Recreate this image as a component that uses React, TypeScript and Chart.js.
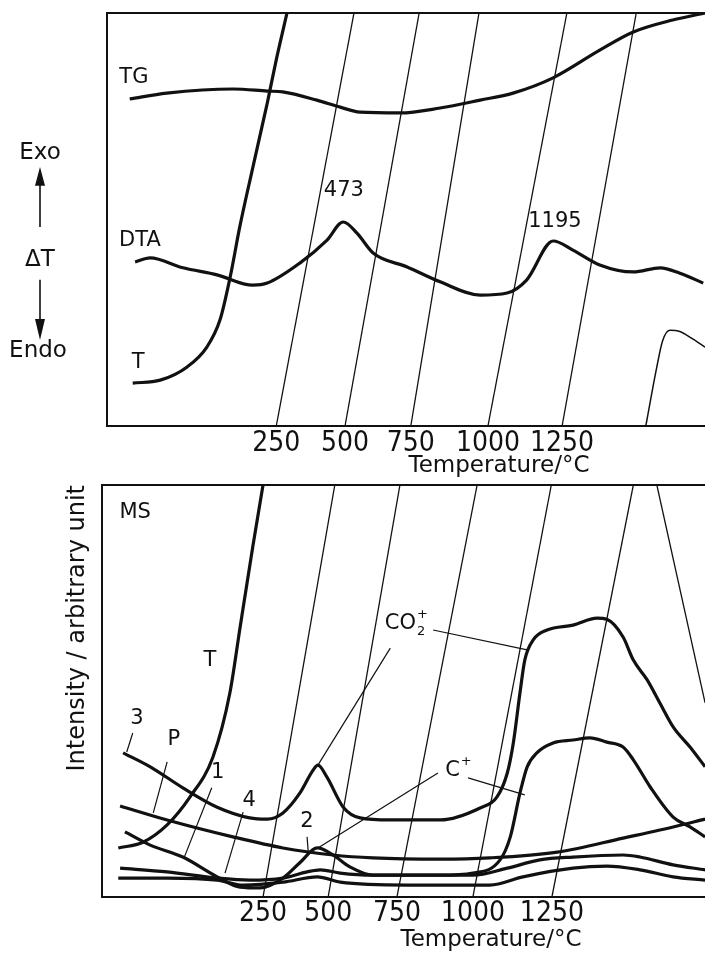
import React, { useEffect, useRef } from "react";
import { Chart, registerables } from "chart.js";

Chart.register(...registerables);

type P = [number, number];

// ---------------- Upper panel: TG / DTA / T ----------------
const upperTempLabels = ["250", "500", "750", "1000", "1250"];
const upperIsoBottom = [28.3, 39.8, 50.8, 63.7, 76.1];
const upperIsoTop = [41.3, 52.2, 62.2, 76.9, 88.5];

const tgCurve: P[] = [
  [3.8, 79.2], [10.0, 80.6], [21.1, 81.6], [26.8, 81.1], [29.4, 80.9], [35.1, 78.9],
  [39.0, 77.2], [42.3, 76.0], [49.0, 75.8], [55.7, 77.0], [62.4, 78.9], [67.9, 80.6],
  [74.6, 84.3], [82.4, 91.0], [88.0, 95.4], [94.6, 98.3], [100, 100],
];
const dtaCurve: P[] = [
  [4.7, 39.7], [7.2, 40.7], [12.7, 38.3], [18.4, 36.6], [24.4, 34.1], [26.8, 34.6],
  [32.3, 39.5], [36.8, 45.0], [39.5, 49.4], [41.8, 46.7], [44.5, 41.9], [50.2, 38.5],
  [55.7, 34.9], [62.4, 31.7], [66.9, 32.2], [70.2, 35.4], [74.6, 44.8], [77.9, 42.6],
  [82.4, 39.0], [88.0, 37.3], [92.5, 38.3], [95.8, 37.0], [99.7, 34.6],
];
const upperT: P[] = [
  [4.3, 10.4], [8.9, 11.1], [13.4, 14.3], [16.7, 19.1], [18.9, 25.7], [20.6, 36.1],
  [22.2, 48.2], [24.4, 62.7], [26.8, 78.2], [28.4, 89.3], [30.1, 100],
];
const upperTReturn: P[] = [[90.1, 0], [91.9, 14.0], [92.9, 20.6], [94.1, 23.2], [95.8, 22.9], [97.8, 21.2], [100, 19.1]];

const upperLabels = [
  { text: "TG", x: 4.5, y: 84.3 },
  { text: "DTA", x: 5.5, y: 45.0 },
  { text: "T", x: 5.2, y: 15.3 },
  { text: "473", x: 39.6, y: 56.9 },
  { text: "1195", x: 74.9, y: 49.6 },
];

// ---------------- Lower panel: MS ----------------
const lowerTempLabels = ["250", "500", "750", "1000", "1250"];
const lowerIsoBottom = [26.7, 37.5, 48.9, 61.5, 74.6];
const lowerIsoTop = [38.6, 49.4, 62.2, 74.5, 88.1];
const coolingLine: P[] = [[92.0, 100], [100, 47.1]];

const co2Curve: P[] = [
  [3.5, 35.0], [8.0, 31.6], [13.4, 26.5], [19.1, 21.8], [24.5, 19.2], [27.4, 18.9],
  [30.0, 20.4], [32.8, 25.2], [35.0, 30.8], [35.8, 32.0], [37.3, 29.1], [40.0, 21.8],
  [42.8, 19.2], [47.8, 18.7], [56.1, 18.7], [62.7, 21.6], [65.5, 24.3], [67.2, 30.1],
  [68.2, 37.4], [69.3, 49.5], [70.1, 57.5], [71.5, 62.4], [73.8, 64.8], [78.1, 66.0],
  [82.1, 67.7], [83.7, 67.4], [86.4, 63.1], [88.1, 57.5], [90.4, 52.7], [92.5, 47.1],
  [94.7, 41.3], [97.5, 36.4], [100, 31.6],
];
const cPlusCurve: P[] = [
  [3.8, 15.8], [8.0, 12.6], [13.4, 9.7], [19.1, 4.9], [22.9, 2.4], [26.2, 2.2],
  [30.0, 4.6], [32.8, 8.3], [35.7, 11.9], [38.3, 10.2], [41.1, 7.3], [44.9, 5.3],
  [56.1, 5.3], [61.5, 5.8], [66.0, 9.0], [67.7, 14.6], [69.3, 25.2], [70.5, 31.6],
  [72.1, 35.0], [74.8, 37.4], [78.1, 38.1], [80.9, 38.6], [83.7, 37.6], [86.4, 36.4],
  [88.1, 33.3], [90.9, 26.7], [94.7, 19.4], [97.5, 17.0], [100, 14.6],
];
const pCurve: P[] = [
  [3.0, 22.1], [10.8, 18.7], [21.7, 14.6], [30.0, 11.9], [38.3, 10.2], [44.9, 9.5],
  [56.1, 9.2], [64.3, 9.5], [75.5, 10.9], [86.4, 14.3], [94.7, 17.0], [100, 18.9],
];
const curve4: P[] = [
  [3.0, 7.0], [10.8, 6.1], [19.1, 4.6], [24.5, 4.1], [30.0, 4.6], [34.0, 6.1],
  [36.2, 6.6], [39.5, 5.8], [44.9, 5.3], [61.5, 5.3], [67.2, 7.0], [72.6, 9.0],
  [78.1, 9.7], [86.4, 10.2], [89.2, 9.7], [94.7, 7.8], [100, 6.6],
];
const curve2: P[] = [
  [2.7, 4.6], [10.8, 4.6], [19.1, 4.1], [23.4, 2.9], [30.0, 3.6], [35.7, 4.9],
  [39.5, 3.6], [50.6, 2.9], [64.3, 2.9], [69.8, 4.9], [78.1, 7.0], [83.7, 7.5],
  [89.2, 6.6], [94.7, 4.9], [100, 4.1],
];
const lowerT: P[] = [
  [2.7, 11.9], [6.8, 13.3], [10.8, 17.5], [14.6, 24.3], [18.4, 34.0], [21.2, 49.5],
  [22.9, 65.5], [25.0, 85.0], [26.7, 100],
];

const lowerLeaders: P[][] = [
  [[5.1, 39.8], [4.1, 35.2]],
  [[10.8, 32.8], [8.5, 20.4]],
  [[18.2, 26.5], [13.6, 9.5]],
  [[23.4, 20.6], [20.4, 5.8]],
  [[34.0, 14.6], [34.2, 10.9]],
  [[54.9, 64.8], [70.5, 60.0]],
  [[47.8, 60.4], [35.8, 32.0]],
  [[60.7, 28.9], [70.1, 24.8]],
  [[55.7, 30.1], [35.8, 11.9]],
];

const lowerLabels = [
  { text: "MS", x: 5.5, y: 93.4 },
  { text: "T", x: 17.9, y: 57.5 },
  { text: "3", x: 5.8, y: 43.2 },
  { text: "P", x: 11.9, y: 38.1 },
  { text: "1", x: 19.2, y: 30.3 },
  { text: "4", x: 24.4, y: 23.5 },
  { text: "2", x: 34.0, y: 18.2 },
];
const lowerIonLabels = [
  { text: "CO", sub: "2", sup: "+", x: 46.9, y: 66.3 },
  { text: "C", sub: "", sup: "+", x: 56.9, y: 30.6 },
];

// ---------------- helpers ----------------
const INK = "#111";
const LABEL_FONT = '21px "DejaVu Sans", sans-serif';
const SIDE_FONT = '23px "DejaVu Sans", sans-serif';
const TICK_FAMILY = '"Liberation Sans Narrow", "DejaVu Sans Condensed", sans-serif';

const toXY = (d: P[]) => d.map(([x, y]) => ({ x, y }));
const thick = (d: P[]) => ({
  data: toXY(d), borderColor: INK, borderWidth: 3.2, pointRadius: 0,
  cubicInterpolationMode: "monotone" as const, fill: false,
});
const thin = (d: P[], w = 1.3) => ({
  data: toXY(d), borderColor: INK, borderWidth: w, pointRadius: 0, tension: 0, fill: false,
});
const thinSmooth = (d: P[], w = 1.5) => ({
  data: toXY(d), borderColor: INK, borderWidth: w, pointRadius: 0,
  cubicInterpolationMode: "monotone" as const, fill: false,
});
const isoLines = (bottom: number[], top: number[]) =>
  bottom.map((b, i) => thin([[b, 0], [top[i], 100]], 1.3));

function scales(xMax: number, ticks: number[], labels: string[], xHeight: number, tickPad: number, yWidth: number, yTitle?: string) {
  const border = { display: true, width: 2, color: INK };
  return {
    x: {
      type: "linear", min: 0, max: xMax, position: "bottom",
      grid: { display: false, drawTicks: false }, border,
      afterBuildTicks: (s: any) => { s.ticks = ticks.map((v) => ({ value: v })); },
      ticks: {
        autoSkip: false, maxRotation: 0, minRotation: 0, padding: tickPad, color: INK,
        font: { family: TICK_FAMILY, size: 28 },
        callback: (_v: any, i: number) => labels[i],
      },
      title: {
        display: true, text: "Temperature/°C", color: INK,
        font: { family: '"DejaVu Sans", sans-serif', size: 23 }, padding: { top: 0, bottom: 0 },
      },
      afterFit: (s: any) => { s.height = xHeight; },
    },
    x2: {
      type: "linear", min: 0, max: xMax, position: "top", display: true,
      grid: { display: false, drawTicks: false }, ticks: { display: false }, border,
      afterFit: (s: any) => { s.height = 0; },
    },
    y: {
      type: "linear", min: 0, max: 100, position: "left",
      grid: { display: false, drawTicks: false }, ticks: { display: false }, border,
      title: yTitle
        ? {
            display: true, text: yTitle, align: "end", color: INK,
            font: { family: '"DejaVu Sans", sans-serif', size: 24 }, padding: { top: 63, bottom: 0 },
          }
        : { display: false },
      afterFit: (s: any) => { s.width = yWidth; },
    },
  };
}

function drawLabels(chart: any, labels: { text: string; x: number; y: number }[]) {
  const { ctx, scales: sc } = chart;
  ctx.save();
  ctx.fillStyle = INK;
  ctx.font = LABEL_FONT;
  ctx.textAlign = "center";
  ctx.textBaseline = "middle";
  labels.forEach((l) => ctx.fillText(l.text, sc.x.getPixelForValue(l.x), sc.y.getPixelForValue(l.y)));
  ctx.restore();
}

const upperPlugin = {
  id: "upperText",
  afterDatasetsDraw(chart: any) {
    drawLabels(chart, upperLabels);
    const { ctx, chartArea, scales: sc } = chart;
    const cx = chartArea.left - 67;
    const py = (v: number) => sc.y.getPixelForValue(v);
    ctx.save();
    ctx.fillStyle = INK;
    ctx.strokeStyle = INK;
    ctx.font = SIDE_FONT;
    ctx.textAlign = "center";
    ctx.textBaseline = "middle";
    ctx.fillText("Exo", cx, py(66.1));
    ctx.fillText("ΔT", cx, py(40.2));
    ctx.fillText("Endo", cx - 2, py(18.2));
    ctx.lineWidth = 1.6;
    ctx.beginPath();
    ctx.moveTo(cx, py(58.4)); ctx.lineTo(cx, py(48.2));
    ctx.moveTo(cx, py(35.4)); ctx.lineTo(cx, py(25.7));
    ctx.stroke();
    ctx.beginPath();
    ctx.moveTo(cx, py(62.7)); ctx.lineTo(cx - 5, py(58.2)); ctx.lineTo(cx + 5, py(58.2)); ctx.closePath();
    ctx.moveTo(cx, py(20.8)); ctx.lineTo(cx - 5, py(25.9)); ctx.lineTo(cx + 5, py(25.9)); ctx.closePath();
    ctx.fill();
    ctx.restore();
  },
};

const lowerPlugin = {
  id: "lowerText",
  afterDatasetsDraw(chart: any) {
    drawLabels(chart, lowerLabels);
    const { ctx, scales: sc } = chart;
    ctx.save();
    ctx.fillStyle = INK;
    ctx.textBaseline = "middle";
    ctx.textAlign = "left";
    lowerIonLabels.forEach((l) => {
      const x = sc.x.getPixelForValue(l.x);
      const y = sc.y.getPixelForValue(l.y);
      ctx.font = LABEL_FONT;
      ctx.fillText(l.text, x, y);
      const w = ctx.measureText(l.text).width;
      ctx.font = '13px "DejaVu Sans", sans-serif';
      if (l.sub) ctx.fillText(l.sub, x + w + 1, y + 8);
      if (l.sup) ctx.fillText(l.sup, x + w + 1, y - 9);
    });
    ctx.restore();
  },
};

export default function App() {
  const upperRef = useRef<HTMLCanvasElement>(null);
  const lowerRef = useRef<HTMLCanvasElement>(null);

  useEffect(() => {
    const upper = new Chart(upperRef.current as HTMLCanvasElement, {
      type: "line",
      data: {
        datasets: [
          ...isoLines(upperIsoBottom, upperIsoTop),
          thinSmooth(upperTReturn, 1.5),
          thick(tgCurve),
          thick(dtaCurve),
          thick(upperT),
        ] as any,
      },
      options: {
        responsive: false,
        animation: false,
        events: [],
        layout: { padding: { left: 0, top: 13, right: 0, bottom: 0 } },
        plugins: { legend: { display: false }, tooltip: { enabled: false } },
        scales: scales(131.1, upperIsoBottom, upperTempLabels, 54, 1, 107) as any,
      },
      plugins: [upperPlugin],
    });
    const lower = new Chart(lowerRef.current as HTMLCanvasElement, {
      type: "line",
      data: {
        datasets: [
          ...isoLines(lowerIsoBottom, lowerIsoTop),
          thin(coolingLine, 1.3),
          ...lowerLeaders.map((d) => thin(d, 1.2)),
          thick(co2Curve),
          thick(cPlusCurve),
          thick(pCurve),
          thick(curve4),
          thick(curve2),
          thick(lowerT),
        ] as any,
      },
      options: {
        responsive: false,
        animation: false,
        events: [],
        layout: { padding: { left: 0, top: 7, right: 0, bottom: 0 } },
        plugins: { legend: { display: false }, tooltip: { enabled: false } },
        scales: scales(129.0, lowerIsoBottom, lowerTempLabels, 57, 0, 102, "Intensity / arbitrary unit") as any,
      },
      plugins: [lowerPlugin],
    });
    return () => {
      upper.destroy();
      lower.destroy();
    };
  }, []);

  return (
    <div style={{ position: "fixed", left: 0, top: 0, width: 705, height: 954, overflow: "hidden", background: "#fff" }}>
      <canvas ref={upperRef} width={891} height={480} style={{ position: "absolute", left: 0, top: 0, width: 891, height: 480 }} />
      <canvas ref={lowerRef} width={880} height={476} style={{ position: "absolute", left: 0, top: 478, width: 880, height: 476 }} />
    </div>
  );
}
